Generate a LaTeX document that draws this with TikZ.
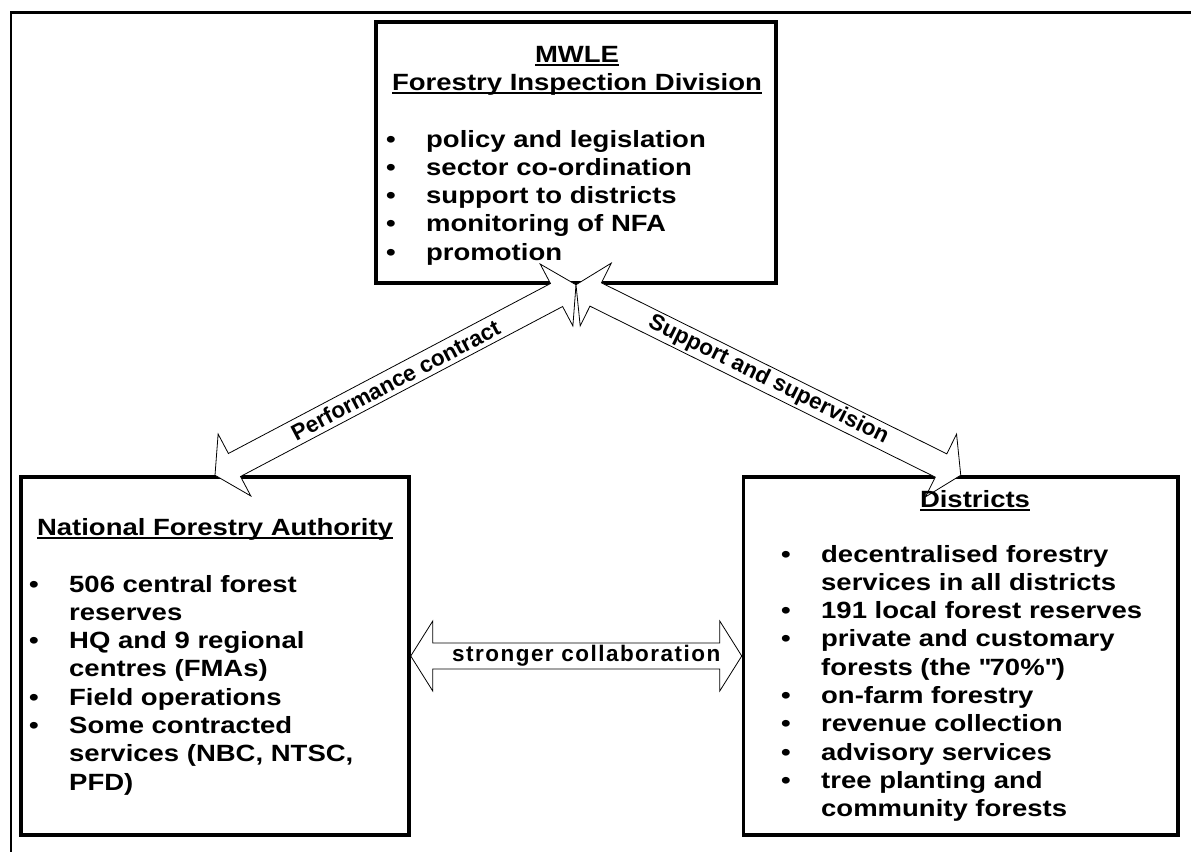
\documentclass[tikz,border=0pt]{standalone}
\usepackage{fontspec}
\setmainfont{Liberation Sans}[FakeStretch=1.17]
\newfontfamily\lblfont{Liberation Sans}
\usetikzlibrary{calc,shadows}
\newsavebox\ulbox
\newcommand\ulhead[1]{\sbox\ulbox{#1}\rlap{\rule[-3.5pt]{\wd\ulbox}{2pt}}\usebox\ulbox}
\newcommand\itm{\makebox[40pt][l]{•}}
% double block arrow between two points
\newcommand\dblarrow[2]{%
  \coordinate (ha) at ($(#1)!22pt!(#2)$);
  \coordinate (hb) at ($(#2)!22pt!(#1)$);
  \draw[blockarrow] (#1) -- ($(ha)!35pt!90:(#2)$) -- ($(ha)!13pt!90:(#2)$)
    -- ($(hb)!13pt!-90:(#1)$) -- ($(hb)!35pt!-90:(#1)$) -- (#2)
    -- ($(hb)!35pt!90:(#1)$) -- ($(hb)!13pt!90:(#1)$)
    -- ($(ha)!13pt!-90:(#2)$) -- ($(ha)!35pt!-90:(#2)$) -- cycle;}
\begin{document}
\begin{tikzpicture}[x=1pt, y=-1pt,
    box/.style={draw, line width=3.5pt, fill=white, inner sep=0pt,
      drop shadow={shadow xshift=1.5pt, shadow yshift=-1.5pt, fill=gray!45}},
    blockarrow/.style={draw, line width=0.8pt, fill=white, line join=miter},
    txt/.style={inner sep=0pt, font=\bfseries\fontsize{23.5}{28.3}\selectfont},
    lbl/.style={inner sep=0pt, font=\lblfont\bfseries\fontsize{22.5}{27}\selectfont}]
    \useasboundingbox (0,0) rectangle (1191,852);
    \draw[line width=2.5pt] (1191,12.5) -- (11,12.5) -- (11,852);
    % boxes
    \node[box, minimum width=400pt, minimum height=261pt] (mwle) at (576,152.5) {};
    \node[box, minimum width=388pt, minimum height=358pt] (nfa) at (215,656) {};
    \node[box, minimum width=434.5pt, minimum height=358pt] (districts) at (960.75,656) {};
    % arrows
    \dblarrow{nfa.north}{mwle.south}
    \dblarrow{mwle.south}{districts.north}
    \dblarrow{nfa.east}{districts.west}
    \path (nfa.north) -- (mwle.south) node[midway, sloped, lbl] (pc) {Performance contract};
    \path (mwle.south) -- (districts.north) node[midway, sloped, lbl] (ss) {Support and supervision};
    \path (nfa.east) -- (districts.west) node[midway, lbl, xshift=10pt] (sc) {\addfontfeature{LetterSpace=6.5}stronger collaboration};
    % texts
    \node[txt, anchor=base] (mwlehead) at (577,62) {\begin{tabular}[t]{@{}c@{}}\ulhead{MWLE}\\\ulhead{Forestry Inspection Division}\end{tabular}};
    \node[txt, anchor=base west] (mwlelist) at (386,147) {\begin{tabular}[t]{@{}l@{}l@{}}
        \itm & policy and legislation\\
        \itm & sector co-ordination\\
        \itm & support to districts\\
        \itm & monitoring of NFA\\
        \itm & promotion\end{tabular}};
    \node[txt, anchor=base] (nfahead) at (215,535) {\ulhead{National Forestry Authority}};
    \node[txt, anchor=base west] (nfalist) at (29,592) {\begin{tabular}[t]{@{}l@{}l@{}}
        \itm & 506 central forest\\
             & reserves\\
        \itm & HQ and 9 regional\\
             & centres (FMAs)\\
        \itm & Field operations\\
        \itm & Some contracted\\
             & services (NBC, NTSC,\\
             & PFD)\end{tabular}};
    \node[txt, anchor=base] (disthead) at (975,507) {\ulhead{Districts}};
    \node[txt, anchor=base west] (distlist) at (781,562) {\begin{tabular}[t]{@{}l@{}l@{}}
        \itm & decentralised forestry\\
             & services in all districts\\
        \itm & 191 local forest reserves\\
        \itm & private and customary\\
             & forests (the \textquotedbl 70\%\textquotedbl)\\
        \itm & on-farm forestry\\
        \itm & revenue collection\\
        \itm & advisory services\\
        \itm & tree planting and\\
             & community forests\end{tabular}};
\end{tikzpicture}
\end{document}
